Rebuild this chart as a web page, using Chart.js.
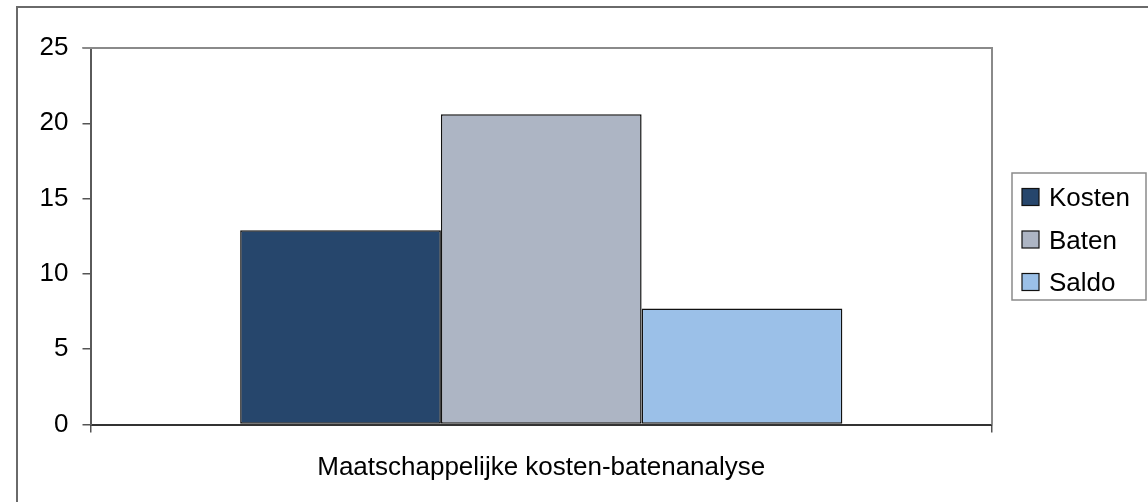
<!DOCTYPE html>
<html>
<head>
<meta charset="utf-8">
<style>
  html, body { margin: 0; padding: 0; background: #ffffff; }
  #wrap { width: 1148px; height: 502px; position: relative; }
</style>
<script src="https://cdn.jsdelivr.net/npm/chart.js@4/dist/chart.umd.min.js"></script>
</head>
<body>
<div id="wrap"><canvas id="chart" width="1148" height="502"></canvas></div>
<script>
// Category and series values
const categories = ['Maatschappelijke kosten-batenanalyse'];
const seriesNames = ['Kosten', 'Baten', 'Saldo'];
const kosten = [12.9];
const baten = [20.6];
const saldo = [7.7];
const yTicks = [0, 5, 10, 15, 20, 25];

const seriesColors = ['#26466c', '#adb5c4', '#9bc0e8'];
const FONT = '"Liberation Sans", Arial, Helvetica, sans-serif';
const FONT_SIZE = 26;

// Outer frame, plot frame (top/right) and the boxed legend
const framePlugin = {
  id: 'frame',
  beforeDraw(chart) {
    const ctx = chart.ctx;
    ctx.save();
    ctx.fillStyle = '#ffffff';
    ctx.fillRect(0, 0, chart.width, chart.height);
    ctx.strokeStyle = '#6a6a6a';
    ctx.lineWidth = 2;
    ctx.beginPath();
    ctx.moveTo(17, chart.height);
    ctx.lineTo(17, 7);
    ctx.lineTo(chart.width, 7);
    ctx.stroke();
    ctx.restore();
  },
  afterDraw(chart) {
    const ctx = chart.ctx;
    const a = chart.chartArea;
    ctx.save();
    ctx.strokeStyle = '#8a8a8a';
    ctx.lineWidth = 2;
    ctx.beginPath();
    ctx.moveTo(a.left - 8, a.top);
    ctx.lineTo(a.right, a.top);
    ctx.lineTo(a.right, a.bottom);
    ctx.stroke();

    // legend
    const lx = 1012, ly = 173, lw = 134, lh = 127;
    ctx.strokeStyle = '#8a8a8a';
    ctx.lineWidth = 1.5;
    ctx.strokeRect(lx, ly, lw, lh);
    ctx.font = FONT_SIZE + 'px ' + FONT;
    ctx.textBaseline = 'alphabetic';
    ctx.textAlign = 'left';
    chart.data.datasets.forEach((ds, i) => {
      const cy = 197 + i * 42.5;
      ctx.fillStyle = ds.backgroundColor;
      ctx.fillRect(lx + 10, cy - 8.5, 17, 17);
      ctx.strokeStyle = '#111111';
      ctx.lineWidth = 1.2;
      ctx.strokeRect(lx + 10, cy - 8.5, 17, 17);
      ctx.fillStyle = '#000000';
      ctx.fillText(ds.label, lx + 37, cy + 9.3);
    });
    ctx.restore();
  }
};

const seriesData = [kosten, baten, saldo];

new Chart(document.getElementById('chart'), {
  type: 'bar',
  data: {
    labels: categories,
    datasets: seriesNames.map((name, i) => ({
      label: name,
      data: seriesData[i],
      backgroundColor: seriesColors[i],
      borderColor: '#111111',
      borderWidth: 1.5,
      borderSkipped: false,
      categoryPercentage: 0.668,
      barPercentage: 1.0
    }))
  },
  options: {
    responsive: false,
    animation: false,
    devicePixelRatio: 1,
    layout: { padding: { left: 0, right: 156, top: 48, bottom: 0 } },
    plugins: {
      legend: { display: false },
      tooltip: { enabled: false },
      title: { display: false }
    },
    scales: {
      x: {
        offset: true,
        grid: {
          offset: true,
          drawOnChartArea: false,
          tickLength: 8,
          color: '#555555',
          lineWidth: 1.5
        },
        border: { color: '#333333', width: 2 },
        ticks: {
          color: '#000000',
          font: { family: FONT, size: FONT_SIZE },
          padding: 20,
          maxRotation: 0
        },
        afterFit(scale) { scale.height = 77.5; }
      },
      y: {
        min: 0,
        max: 25,
        afterBuildTicks(scale) { scale.ticks = yTicks.map(v => ({ value: v })); },
        grid: {
          drawOnChartArea: false,
          tickLength: 8,
          color: '#555555',
          lineWidth: 1.5
        },
        border: { color: '#5a5a5a', width: 2 },
        ticks: {
          color: '#000000',
          font: { family: FONT, size: FONT_SIZE },
          padding: 14
        },
        afterFit(scale) { scale.width = 90.5; }
      }
    }
  },
  plugins: [framePlugin]
});
</script>
</body>
</html>
